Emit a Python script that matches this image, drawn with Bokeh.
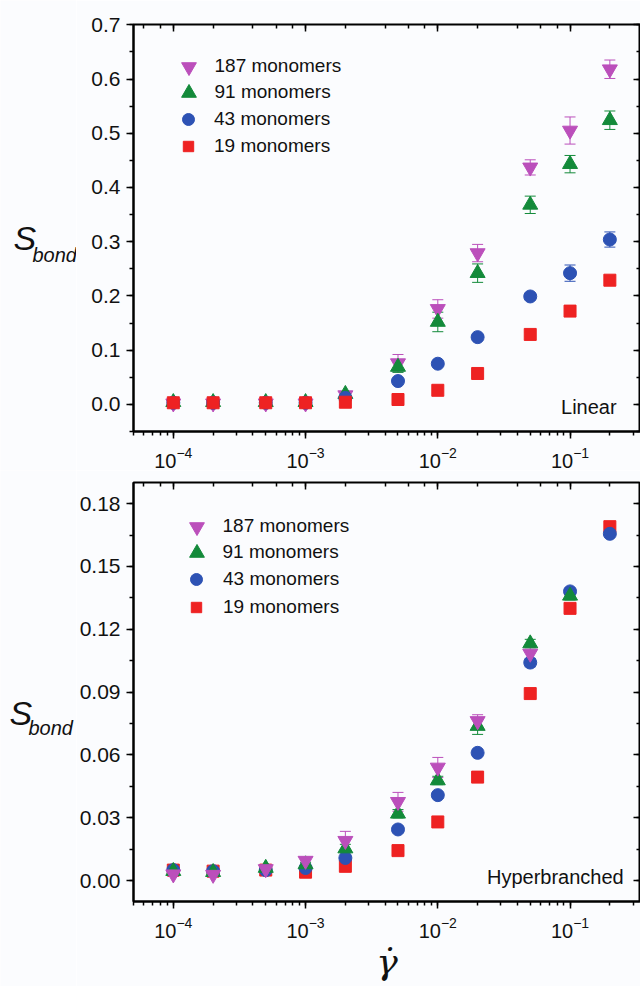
import numpy as np
from bokeh.plotting import figure
from bokeh.models import (ColumnDataSource, Whisker, TeeHead, LogAxis, LinearAxis, LogTicker,
                          SingleIntervalTicker, PrintfTickFormatter, Legend, LegendItem,
                          Label, Range1d)
from bokeh.core.properties import value
from bokeh.layouts import column, row
from bokeh.embed import file_html
from bokeh.resources import INLINE

nan = float("nan")

# shear rates (x values shared by all series)
shear_rate = [1e-4, 2e-4, 5e-4, 1e-3, 2e-3, 5e-3, 1e-2, 2e-2, 5e-2, 1e-1, 2e-1]

# Linear chains: S_bond and error
lin_187 = [0.002, 0.002, 0.002, 0.002, 0.017, 0.076, 0.176, 0.279, 0.437, 0.505, 0.618]
lin_187_err = [0.001, 0.001, 0.001, 0.001, 0.004, 0.016, 0.017, 0.016, 0.014, 0.025, 0.017]
lin_91 = [0.004, 0.004, 0.004, 0.004, 0.019, 0.069, 0.152, 0.242, 0.368, 0.443, 0.524]
lin_91_err = [0.001, 0.001, 0.001, 0.001, 0.003, 0.010, 0.018, 0.017, 0.016, 0.016, 0.017]
lin_43 = [0.003, 0.003, 0.003, 0.003, 0.012, 0.043, 0.075, 0.124, 0.199, 0.242, 0.304]
lin_43_err = [0.001, 0.001, 0.001, 0.001, 0.002, 0.004, 0.004, 0.005, 0.006, 0.015, 0.014]
lin_19 = [0.003, 0.003, 0.003, 0.003, 0.004, 0.009, 0.026, 0.057, 0.129, 0.172, 0.229]
lin_19_err = [0.001, 0.001, 0.001, 0.001, 0.001, 0.002, 0.003, 0.003, 0.004, 0.005, 0.005]

# Hyperbranched polymers: S_bond and error
hb_187 = [0.0030, 0.0028, 0.0055, 0.0095, 0.0190, 0.0376, 0.0540, 0.0762, 0.1084, nan, nan]
hb_187_err = [0.0010, 0.0010, 0.0010, 0.0015, 0.0045, 0.0045, 0.0048, 0.0030, 0.0030, nan, nan]
hb_91 = [0.0045, 0.0040, 0.0060, 0.0077, 0.0153, 0.0319, 0.0478, 0.0738, 0.1132, 0.1360, nan]
hb_91_err = [0.0010, 0.0010, 0.0010, 0.0010, 0.0020, 0.0020, 0.0020, 0.0040, 0.0020, 0.0020, nan]
hb_43 = [0.0050, 0.0045, 0.0050, 0.0060, 0.0108, 0.0244, 0.0408, 0.0610, 0.1041, 0.1381, 0.1656]
hb_43_err = [0.0010, 0.0010, 0.0010, 0.0010, 0.0010, 0.0015, 0.0015, 0.0015, 0.0020, 0.0015, 0.0015]
hb_19 = [0.0050, 0.0045, 0.0050, 0.0040, 0.0068, 0.0143, 0.0280, 0.0494, 0.0893, 0.1300, 0.1690]
hb_19_err = [0.0010, 0.0010, 0.0010, 0.0010, 0.0010, 0.0010, 0.0010, 0.0015, 0.0020, 0.0015, 0.0015]

series_labels = ["187 monomers", "91 monomers", "43 monomers", "19 monomers"]
markers = ["inverted_triangle", "triangle", "circle", "square"]
colors = ["#bb4fbb", "#138a3a", "#2d52b4", "#ee2222"]
sizes = [15, 15, 13, 12]
legend_box = [37, 37, 30, 26]      # legend glyph box per series (marker = 0.4 * box)

BG = "#fbfcfe"
FONT = "Liberation Sans"
INK = "#111111"
SIDE_W = 76          # width of the strip holding the S_bond label
MAIN_W = 640 - SIDE_W


def style_ticks(ax, inward):
    ax.major_tick_in = 7 if inward else 0
    ax.major_tick_out = 0 if inward else 7
    ax.minor_tick_in = 4 if inward else 0
    ax.minor_tick_out = 0 if inward else 4
    ax.major_tick_line_width = 1.5
    ax.minor_tick_line_width = 1.5


def make_panel(height, top, bottom, y_lo, y_hi, y_step, y_fmt, values, errors, order):
    p = figure(width=MAIN_W, height=height, x_axis_type="log",
               x_range=Range1d(5e-5, 0.341), y_range=Range1d(y_lo, y_hi),
               output_backend="svg", toolbar_location=None,
               min_border_left=132 - SIDE_W, min_border_right=0,
               min_border_top=top, min_border_bottom=bottom,
               background_fill_color=BG, border_fill_color=BG,
               outline_line_color="black", outline_line_width=2)
    p.grid.visible = False

    xa = p.below[0]
    xa.axis_line_width = 2
    style_ticks(xa, False)
    xa.major_label_text_font = FONT
    xa.major_label_text_font_size = "20px"
    xa.major_label_text_color = INK
    xa.major_label_standoff = 8

    ya = p.left[0]
    ya.ticker = SingleIntervalTicker(interval=y_step, num_minor_ticks=2)
    ya.formatter = PrintfTickFormatter(format=y_fmt)
    ya.axis_line_width = 2
    style_ticks(ya, False)
    ya.major_label_text_font = FONT
    ya.major_label_text_font_size = "21px"
    ya.major_label_text_color = INK
    ya.major_label_standoff = 6

    # mirrored axes with inward ticks and hidden labels
    top_ax = LogAxis(ticker=LogTicker(), axis_line_color=None,
                     major_label_text_font_size="1px", major_label_text_alpha=0,
                     major_label_standoff=0)
    style_ticks(top_ax, True)
    p.add_layout(top_ax, "above")
    right_ax = LinearAxis(ticker=SingleIntervalTicker(interval=y_step, num_minor_ticks=2),
                          axis_line_color=None,
                          major_label_text_font_size="1px", major_label_text_alpha=0,
                          major_label_standoff=0)
    style_ticks(right_ax, True)
    p.add_layout(right_ax, "right")

    x = np.array(shear_rate)
    renderers = {}
    for i in order:
        y = np.array(values[i], dtype=float)
        e = np.array(errors[i], dtype=float)
        m = ~np.isnan(y)
        src = ColumnDataSource(dict(x=x[m], y=y[m], upper=(y + e)[m], lower=(y - e)[m]))
        w = Whisker(source=src, base="x", upper="upper", lower="lower",
                    line_color=colors[i], line_width=1,
                    upper_head=TeeHead(size=11, line_color=colors[i], line_width=1),
                    lower_head=TeeHead(size=11, line_color=colors[i], line_width=1),
                    level="underlay")
        p.add_layout(w)
        r = p.scatter("x", "y", source=src, marker=markers[i], size=sizes[i],
                      fill_color=colors[i], line_color=colors[i])
        renderers[i] = r
    return p, renderers


def add_legend(p, renderers, frame_left, frame_bottom, marker_x, text_x, row_y):
    # one single-entry legend per series so each keys its own marker size and row
    for i in range(4):
        gb = legend_box[i]
        leg = Legend(items=[LegendItem(label=series_labels[i], renderers=[renderers[i]])],
                     location=(marker_x - gb / 2 - frame_left, frame_bottom - row_y[i] - gb / 2),
                     glyph_width=gb, glyph_height=gb,
                     label_standoff=int(round(text_x - marker_x - gb / 2)),
                     padding=0, margin=0, spacing=0,
                     border_line_color=None, background_fill_alpha=0,
                     label_text_font=FONT, label_text_font_size="19px",
                     label_text_color=INK)
        p.add_layout(leg)


def ylabel_strip(height, s_xy, sub_xy):
    # plain canvas whose data units are pixels, holding the S_bond axis title
    s = figure(width=SIDE_W, height=height, x_range=Range1d(0, SIDE_W),
               y_range=Range1d(0, height),
               output_backend="svg", toolbar_location=None,
               x_axis_location=None, y_axis_location=None,
               min_border=0, outline_line_color=None,
               background_fill_color=BG, border_fill_color=BG)
    s.grid.visible = False
    s.text(x=[s_xy[0]], y=[s_xy[1]], text=["S"], text_font=value(FONT),
           text_font_style="italic", text_font_size="34px", text_color=INK,
           text_align="left", text_baseline="alphabetic")
    s.text(x=[sub_xy[0]], y=[sub_xy[1]], text=["bond"], text_font=value(FONT),
           text_font_style="italic", text_font_size="20px", text_color=INK,
           text_align="left", text_baseline="alphabetic")
    return s


# upper panel: linear chains
p1, r1 = make_panel(470, 24, 38, -0.05, 0.7005, 0.1, "%.1f",
                    [lin_187, lin_91, lin_43, lin_19],
                    [lin_187_err, lin_91_err, lin_43_err, lin_19_err],
                    order=[0, 1, 2, 3])
add_legend(p1, r1, 132, 432, 187, 213, [67, 93, 120, 147])
p1.add_layout(Label(x=0.225, y=-0.0055, text="Linear", text_align="right",
                    text_baseline="alphabetic", text_font=FONT, text_font_size="20px",
                    text_color=INK))

# lower panel: hyperbranched polymers, with the shear-rate symbol as x-axis title
p2, r2 = make_panel(516, 12, 85, -0.01, 0.1901, 0.03, "%.2f",
                    [hb_187, hb_91, hb_43, hb_19],
                    [hb_187_err, hb_91_err, hb_43_err, hb_19_err],
                    order=[3, 2, 1, 0])
add_legend(p2, r2, 132, 901 - 470, 195, 222, [526 - 470, 552 - 470, 579 - 470, 607 - 470])
p2.add_layout(Label(x=0.2546, y=0.0018, text="Hyperbranched", text_align="right",
                    text_baseline="alphabetic", text_font=FONT, text_font_size="20px",
                    text_color=INK))
xb = p2.below[0]
xb.axis_label = "\u03b3\u0307"
xb.axis_label_text_font = "DejaVu Serif"
xb.axis_label_text_font_style = "italic"
xb.axis_label_text_font_size = "36px"
xb.axis_label_text_color = INK
xb.axis_label_standoff = 0

s1 = ylabel_strip(470, (13, 233), (32, 216))
s2 = ylabel_strip(516, (9, 274), (28, 259))

layout = row(column(s1, s2, spacing=0), column(p1, p2, spacing=0), spacing=0)
open("out.html", "w").write(file_html(layout, INLINE))
